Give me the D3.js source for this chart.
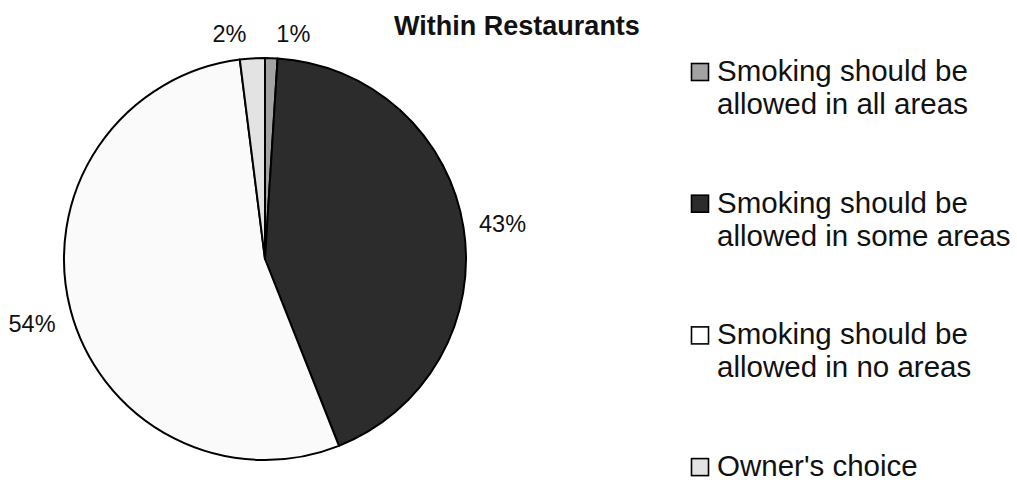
<!DOCTYPE html>
<html>
<head>
<meta charset="utf-8">
<script src="https://cdn.jsdelivr.net/npm/d3@7"></script>
<style>
  html, body { margin: 0; padding: 0; background: #ffffff; }
  svg { display: block; }
  text { font-family: "Liberation Sans", Arial, sans-serif; fill: #111; }
</style>
</head>
<body>
<svg id="chart" width="1017" height="480"></svg>
<script>
// Survey answers: where smoking should be allowed within restaurants
const categories = [
  "Smoking should be allowed in all areas",
  "Smoking should be allowed in some areas",
  "Smoking should be allowed in no areas",
  "Owner's choice"
];
const legendLines = [
  ["Smoking should be", "allowed in all areas"],
  ["Smoking should be", "allowed in some areas"],
  ["Smoking should be", "allowed in no areas"],
  ["Owner's choice"]
];
const percents = [1, 43, 54, 2];
const fills = ["#a3a3a3", "#2c2c2c", "#fafafa", "#e3e3e3"];
const title = "Within Restaurants";

const svg = d3.select("#chart");
const cx = 265, cy = 259, radius = 201;

svg.append("text")
  .attr("x", 517).attr("y", 35)
  .attr("text-anchor", "middle")
  .attr("font-size", 27)
  .attr("font-weight", "bold")
  .text(title);

const pie = d3.pie().sort(null).value(d => d);
const arcs = pie(percents);
const arc = d3.arc().innerRadius(0).outerRadius(radius);

const g = svg.append("g").attr("transform", `translate(${cx},${cy})`);
g.selectAll("path.slice")
  .data(arcs)
  .join("path")
  .attr("class", "slice")
  .attr("d", arc)
  .attr("fill", (d, i) => fills[i])
  .attr("stroke", "#000")
  .attr("stroke-width", 2)
  .attr("stroke-linejoin", "round");

// Percentage labels sit just outside the rim, boxes pushed off the circle
const labelFont = 23.5;
const pad = 16;
const capH = labelFont * 0.72;
const labelGap = 30;

const labels = g.selectAll("text.pct")
  .data(arcs)
  .join("text")
  .attr("class", "pct")
  .attr("font-size", labelFont)
  .attr("text-anchor", "middle")
  .text(d => d.data + "%");

const placed = [];
labels.each(function (d) {
  const w = this.getComputedTextLength();
  const a = (d.startAngle + d.endAngle) / 2;
  const s = Math.sin(a), c = -Math.cos(a);
  const r = radius + pad;
  placed.push({
    node: this, w,
    x: r * s + (w / 2) * s,
    y: r * c + (capH / 2) * c + (capH / 2) * Math.max(0, c) * 4 * Math.abs(s)
  });
});

// separate labels that crowd each other along the top of the pie
for (let iter = 0; iter < 20; iter++) {
  for (let i = 0; i < placed.length; i++) {
    for (let j = i + 1; j < placed.length; j++) {
      const A = placed[i], B = placed[j];
      if (Math.abs(A.y - B.y) > capH * 1.2) continue;
      const need = (A.w + B.w) / 2 + labelGap;
      const dist = Math.abs(A.x - B.x);
      if (dist < need) {
        const push = (need - dist) / 2;
        const left = A.x < B.x ? A : B, right = A.x < B.x ? B : A;
        left.x -= push; right.x += push;
      }
    }
  }
}
placed.forEach(p => {
  d3.select(p.node).attr("x", p.x).attr("y", p.y + capH / 2);
});

// Legend
const legend = svg.append("g").attr("transform", "translate(691,0)");
const legendTop = 81, legendStep = 131.7, box = 18, lineH = 33;
const items = legend.selectAll("g.item")
  .data(categories)
  .join("g")
  .attr("class", "item")
  .attr("transform", (d, i) => `translate(0,${legendTop + i * legendStep})`);

items.append("rect")
  .attr("x", 0.5).attr("y", -box + 0.5)
  .attr("width", box - 1).attr("height", box - 1)
  .attr("fill", (d, i) => fills[i] === "#fafafa" ? "#ffffff" : fills[i])
  .attr("stroke", "#000")
  .attr("stroke-width", 1.6);

items.append("text")
  .attr("x", 26)
  .attr("font-size", 29.5)
  .selectAll("tspan")
  .data((d, i) => legendLines[i])
  .join("tspan")
  .attr("x", 26)
  .attr("dy", (d, k) => k === 0 ? 0 : lineH)
  .text(d => d);
</script>
</body>
</html>
